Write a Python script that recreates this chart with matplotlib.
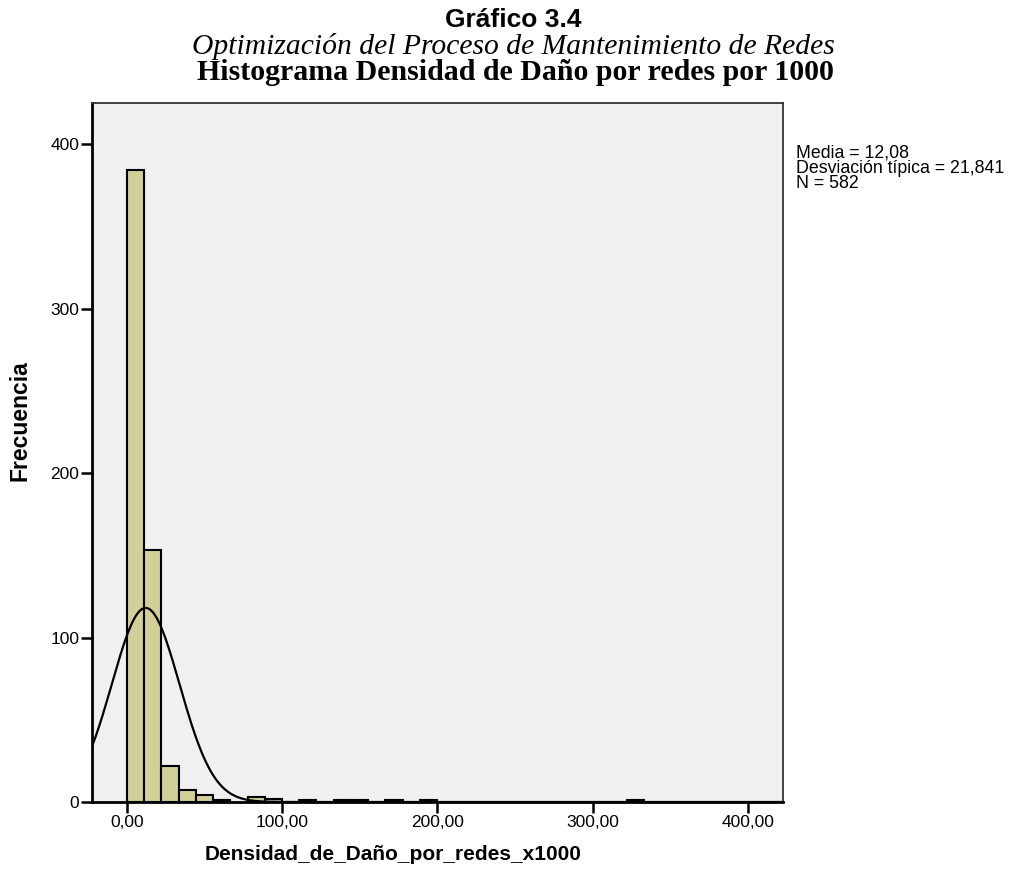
import numpy as np
import matplotlib
matplotlib.use("Agg")
import matplotlib.pyplot as plt

# Histogram data
bin_width = 11.1
counts = [384, 153, 22, 7, 4, 1, 0, 3, 2, 0,
          1, 0, 1, 1, 0, 1, 0, 1, 0, 0,
          0, 0, 0, 0, 0, 0, 0, 0, 0, 1]
mean = 12.08
std = 21.841
n = 582
x_ticks = [0, 100, 200, 300, 400]
y_ticks = [0, 100, 200, 300, 400]

sans = "Liberation Sans"
serif = "Liberation Serif"

fig = plt.figure(figsize=(10.15, 8.82), dpi=100)
ax = fig.add_axes([0.0906, 0.0907, 0.6808, 0.7925])
ax.set_facecolor("#f0f0f0")

# Bars (skip empty bins)
edges = np.arange(len(counts)) * bin_width
for left, c in zip(edges, counts):
    if c > 0:
        ax.bar(left, c, width=bin_width, align="edge", color="#d3cf98",
               edgecolor="black", linewidth=1.5, zorder=2)

# Normal curve
xlim = (-22.5, 422.5)
xs = np.linspace(xlim[0], xlim[1], 600)
ys = n * bin_width / (std * np.sqrt(2 * np.pi)) * np.exp(-0.5 * ((xs - mean) / std) ** 2)
ax.plot(xs, ys, color="black", linewidth=1.6, zorder=3)

ax.set_xlim(*xlim)
ax.set_ylim(0, 425)
ax.set_xticks(x_ticks)
ax.set_xticklabels([f"{v:.2f}".replace(".", ",") for v in x_ticks],
                   fontfamily=sans, fontsize=12.5)
ax.set_yticks(y_ticks)
ax.set_yticklabels([str(v) for v in y_ticks], fontfamily=sans, fontsize=12.5)
ax.tick_params(axis="x", direction="out", length=8, width=1.8, pad=1)
ax.tick_params(axis="y", direction="out", length=8, width=1.8, pad=1)

for side in ["left", "bottom"]:
    ax.spines[side].set_linewidth(2)
for side in ["top", "right"]:
    ax.spines[side].set_linewidth(1.3)
    ax.spines[side].set_color("#333333")

# Titles
fig.text(513 / 1015, 1 - 20 / 882, "Gráfico 3.4", ha="center", va="center",
         fontfamily=sans, fontweight="bold", fontsize=19)
fig.text(513 / 1015, 1 - 46 / 882, "Optimización del Proceso de Mantenimiento de Redes",
         ha="center", va="center", fontfamily=serif, fontstyle="italic", fontsize=21.3)
fig.text(515 / 1015, 1 - 73 / 882, "Histograma Densidad de Daño por redes por 1000",
         ha="center", va="center", fontfamily=serif, fontweight="bold", fontsize=21.5)

# Axis labels
fig.text(393 / 1015, 1 - 855 / 882, "Densidad_de_Daño_por_redes_x1000",
         ha="center", va="center", fontfamily=sans, fontweight="bold", fontsize=15)
fig.text(20 / 1015, 1 - 421 / 882, "Frecuencia", rotation=90,
         ha="center", va="center", fontfamily=sans, fontweight="bold", fontsize=16.5)

# Stats box
stats = f"Media = {mean:.2f}".replace(".", ",") + "\n" + \
        f"Desviación típica = {std:.3f}".replace(".", ",") + "\n" + \
        f"N = {n}"
fig.text(796 / 1015, 1 - 145 / 882, stats, ha="left", va="top",
         fontfamily=sans, fontsize=12.8, linespacing=0.84)

fig.savefig("out.png", dpi=100)
